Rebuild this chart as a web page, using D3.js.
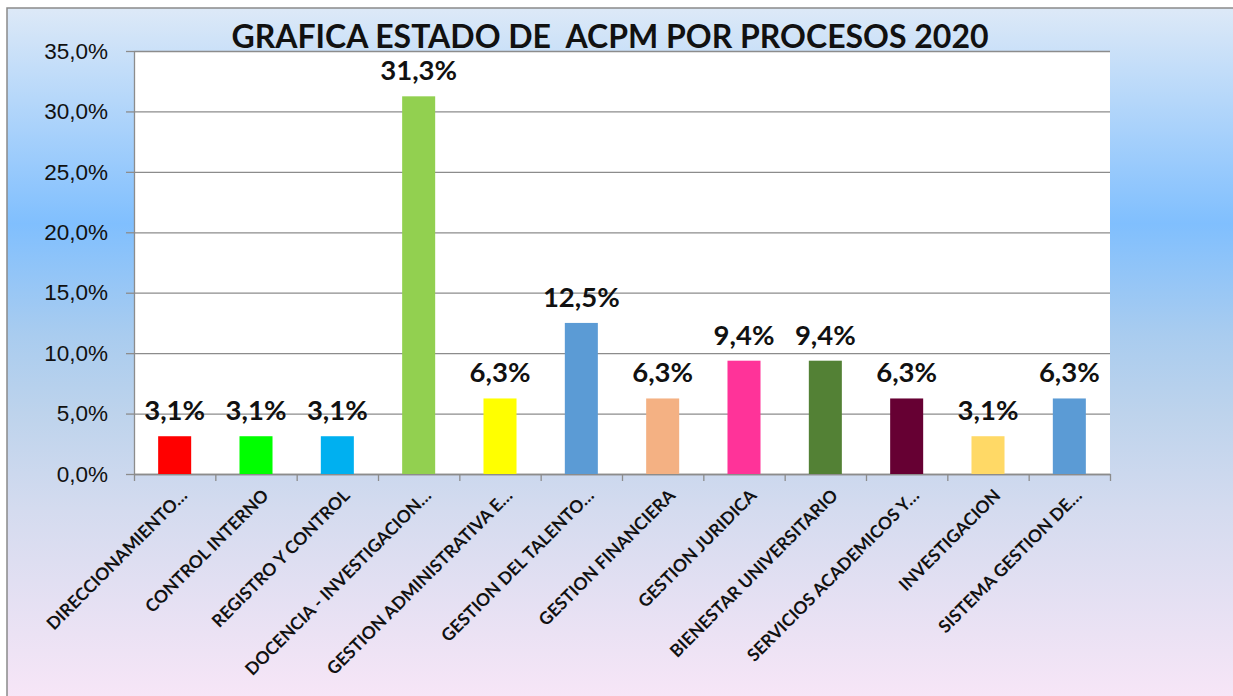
<!DOCTYPE html>
<html>
<head>
<meta charset="utf-8">
<script src="https://cdn.jsdelivr.net/npm/d3@7"></script>
<style>
  body { margin: 0; background: #fff; }
  svg { display: block; font-family: Lato, "Open Sans", sans-serif; }
</style>
</head>
<body>
<div class="chart"></div>
<script>
// datos: porcentaje de ACPM por proceso (2020)
var procesos = [
    'DIRECCIONAMIENTO…', 'CONTROL INTERNO', 'REGISTRO Y CONTROL',
    'DOCENCIA - INVESTIGACION…', 'GESTION ADMINISTRATIVA E…', 'GESTION DEL TALENTO…',
    'GESTION FINANCIERA', 'GESTION JURIDICA', 'BIENESTAR UNIVERSITARIO',
    'SERVICIOS ACADEMICOS Y…', 'INVESTIGACION', 'SISTEMA GESTION DE…'
];
var porcentajes = [3.125, 3.125, 3.125, 31.25, 6.25, 12.5, 6.25, 9.375, 9.375, 6.25, 3.125, 6.25];
var yTicks = [0, 5, 10, 15, 20, 25, 30, 35];
var titulo = 'GRAFICA ESTADO DE\u00a0 ACPM POR PROCESOS 2020';

var colores = ['#ff0000', '#00ff00', '#00b0f0', '#92d050', '#ffff00', '#5b9bd5',
               '#f4b183', '#ff3399', '#538135', '#660033', '#ffd966', '#5b9bd5'];

var width = 1233,
    height = 696,
    margin = { top: 51, right: 123, bottom: 222, left: 134 },
    w = width - margin.left - margin.right,
    h = height - margin.top - margin.bottom,
    gris = '#8c8c8c';

var es = d3.formatLocale({ decimal: ',', thousands: '.', grouping: [3], currency: ['', ' €'] });
var fmt = function(d) { return es.format('.1f')(d) + '%'; };

var svg = d3.select('.chart')
    .append('svg')
    .attr('width', width)
    .attr('height', height);

// fondo degradado del marco
var grad = svg.append('defs').append('linearGradient')
    .attr('id', 'fondo')
    .attr('x1', 0).attr('y1', 0).attr('x2', 0).attr('y2', 1);
[[0, '#dde9f7'], [0.31, '#80bffe'], [0.47, '#a9ccef'], [0.58, '#bdd3ec'],
 [0.72, '#d4dbef'], [1, '#f8e6f7']].forEach(function(s) {
    grad.append('stop').attr('offset', s[0]).attr('stop-color', s[1]);
});

svg.append('rect')
    .attr('x', 7).attr('y', 8)
    .attr('width', width + 10).attr('height', height)
    .attr('fill', 'url(#fondo)')
    .attr('stroke', '#8a8a8a')
    .attr('stroke-width', 1.5);

var g = svg.append('g')
    .attr('transform', 'translate(' + margin.left + ',' + margin.top + ')');

// area de trazado
g.append('rect')
    .attr('width', w).attr('height', h)
    .attr('fill', '#fff');

var x = d3.scaleBand()
    .domain(procesos)
    .range([0, w])
    .paddingInner(0.594)
    .paddingOuter(0.297);

var y = d3.scaleLinear()
    .domain([0, 35])
    .range([h, 0]);

// lineas de cuadricula
g.append('g')
    .attr('class', 'grid')
    .call(d3.axisLeft(y).tickValues(yTicks).tickSize(-w).tickFormat(''))
    .call(function(s) {
        s.select('.domain').remove();
        s.selectAll('line').attr('stroke', gris).attr('stroke-width', 1.3);
    });

// eje Y
g.append('g')
    .attr('class', 'axis')
    .call(d3.axisLeft(y).tickValues(yTicks).tickSize(8).tickSizeOuter(0).tickPadding(18).tickFormat(fmt))
    .call(function(s) {
        s.select('.domain').attr('stroke', gris).attr('stroke-width', 1.3);
        s.selectAll('line').attr('stroke', gris).attr('stroke-width', 1.3);
        s.selectAll('text')
            .style('font-size', '22.5px')
            .attr('fill', '#111');
    });

// eje X: marcas entre categorias
var bordes = d3.scaleLinear().domain([0, procesos.length]).range([0, w]);
g.append('g')
    .attr('class', 'axis')
    .attr('transform', 'translate(0,' + h + ')')
    .call(d3.axisBottom(bordes).tickValues(d3.range(procesos.length + 1)).tickSize(7).tickSizeOuter(0).tickFormat(''))
    .call(function(s) {
        s.select('.domain').attr('stroke', gris).attr('stroke-width', 1.3);
        s.selectAll('line').attr('stroke', gris).attr('stroke-width', 1.3);
    });

// etiquetas X giradas
g.selectAll('.xlab')
    .data(procesos)
    .enter()
    .append('text')
    .attr('class', 'xlab')
    .attr('transform', function(d) {
        return 'translate(' + (x(d) + x.bandwidth() / 2 + 5) + ',' + (h + 14) + ') rotate(-45)';
    })
    .attr('text-anchor', 'end')
    .attr('dy', '0.7em')
    .style('font-size', '17.5px')
    .style('font-weight', 'bold')
    .attr('fill', '#111')
    .text(function(d) { return d; });

// barras
g.selectAll('.bar')
    .data(porcentajes)
    .enter()
    .append('rect')
    .attr('class', 'bar')
    .attr('x', function(d, i) { return x(procesos[i]); })
    .attr('y', function(d) { return y(d); })
    .attr('width', x.bandwidth())
    .attr('height', function(d) { return h - y(d); })
    .attr('fill', function(d, i) { return colores[i]; });

// etiquetas de valor
g.selectAll('.val')
    .data(porcentajes)
    .enter()
    .append('text')
    .attr('class', 'val')
    .attr('x', function(d, i) { return x(procesos[i]) + x.bandwidth() / 2; })
    .attr('y', function(d) { return y(d) - 16; })
    .attr('text-anchor', 'middle')
    .style('font-size', '27.5px')
    .style('font-weight', 'bold')
    .attr('fill', '#111')
    .text(fmt);

// titulo
svg.append('text')
    .attr('x', 610)
    .attr('y', 48)
    .attr('text-anchor', 'middle')
    .style('font-size', '32px')
    .style('font-weight', 'bold')
    .attr('fill', '#111')
    .text(titulo);
</script>
</body>
</html>
